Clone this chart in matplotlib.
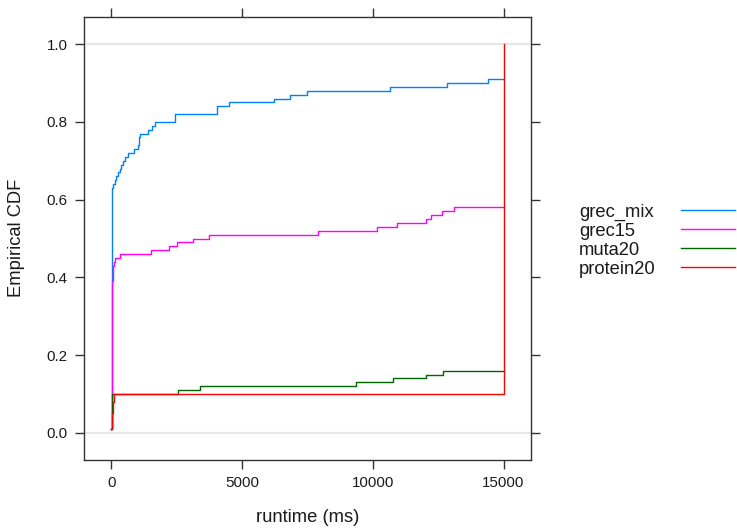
import matplotlib
matplotlib.use("Agg")
import matplotlib.pyplot as plt

plt.rcParams['font.family'] = ['Liberation Sans', 'DejaVu Sans']

series_names = ["grec_mix", "grec15", "muta20", "protein20"]
series_colors = ["#0080ff", "#ff00ff", "#006400", "#ff0000"]

# ECDF step corners: runtime (ms) and cumulative fraction after that runtime
grec_mix_x = [0, 5, 15, 30, 61, 126, 191, 253, 318, 383, 444, 536, 635, 865,
              1018, 1040, 1060, 1083, 1400, 1569, 1657, 2422, 4041, 4500,
              6210, 6823, 7485, 10650, 12820, 14400, 15000]
grec_mix_y = [0.01, 0.36, 0.50, 0.63, 0.64, 0.65, 0.66, 0.67, 0.68, 0.69, 0.70,
              0.71, 0.72, 0.73, 0.74, 0.75, 0.76, 0.77, 0.78, 0.79, 0.80, 0.82,
              0.84, 0.85, 0.86, 0.87, 0.88, 0.89, 0.90, 0.91, 0.91]

grec15_x = [0, 5, 25, 35, 45, 55, 80, 126, 318, 1531, 2193, 2500, 3112, 3724,
            7920, 10150, 10920, 12050, 12210, 12640, 13100, 15000]
grec15_y = [0.01, 0.36, 0.37, 0.39, 0.41, 0.43, 0.44, 0.45, 0.46, 0.47, 0.48,
            0.49, 0.50, 0.51, 0.52, 0.53, 0.54, 0.55, 0.56, 0.57, 0.58, 0.58]

muta20_x = [0, 5, 15, 2537, 3406, 9348, 10764, 12027, 12677, 15000]
muta20_y = [0.01, 0.05, 0.10, 0.11, 0.12, 0.13, 0.14, 0.15, 0.16, 0.16]

protein20_x = [0, 10, 20, 30, 40, 50, 60, 70, 80, 90, 15000]
protein20_y = [0.01, 0.02, 0.03, 0.04, 0.05, 0.06, 0.07, 0.08, 0.09, 0.10, 1.00]

data = [(grec_mix_x, grec_mix_y), (grec15_x, grec15_y),
        (muta20_x, muta20_y), (protein20_x, protein20_y)]

W, H = 737, 528
fig = plt.figure(figsize=(W / 100, H / 100), dpi=100)
left, right, top, bottom = 84, 531, 17, 460
ax = fig.add_axes([left / W, (H - bottom) / H, (right - left) / W, (bottom - top) / H])

# reference lines at 0 and 1
for h in (0, 1):
    ax.axhline(h, color="#e6e6e6", lw=1.5, zorder=1)

for (xs, ys), c in zip(data, series_colors):
    ax.plot(xs, ys, drawstyle="steps-post", color=c, lw=1.0, zorder=2)

ax.set_xlim(-1050, 16050)
ax.set_ylim(-0.07, 1.07)
ax.set_xticks([0, 5000, 10000, 15000])
ax.set_xticklabels(["0", "5000", "10000", "15000"])
ax.set_yticks([0.0, 0.2, 0.4, 0.6, 0.8, 1.0])
ax.set_yticklabels(["0.0", "0.2", "0.4", "0.6", "0.8", "1.0"])

for sp in ax.spines.values():
    sp.set_color("#333333")
    sp.set_linewidth(1.0)
ax.tick_params(axis="both", which="both", direction="out", length=6.8, width=1.0,
               color="#333333", labelsize=10.9, labelcolor="#1a1a1a", pad=5,
               top=True, right=True, labeltop=False, labelright=False)

fig.text(307.5 / W, 1 - 518 / H, "runtime (ms)", ha="center", va="center",
         fontsize=13.2, color="#1a1a1a")
fig.text(17 / W, 1 - 238 / H, "Empirical CDF", ha="center", va="center",
         rotation=90, fontsize=13.2, color="#1a1a1a")

# legend
row_y = [210, 229, 248.3, 267.3]
for name, c, yy in zip(series_names, series_colors, row_y):
    fig.text(579 / W, 1 - (yy + 6.5) / H, name, ha="left", va="baseline",
             fontsize=13.2, color="#1a1a1a")
    fig.add_artist(plt.Line2D([681 / W, 735 / W], [1 - yy / H, 1 - yy / H],
                              color=c, lw=1.0, transform=fig.transFigure))

fig.savefig("out.png", dpi=100)
